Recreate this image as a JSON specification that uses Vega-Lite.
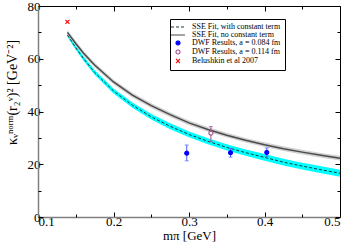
{
 "$schema": "https://vega.github.io/schema/vega-lite/v6.json",
 "width": 302, "height": 211,
 "autosize": "none",
 "padding": {"left": 38, "top": 6, "right": 9, "bottom": 30},
 "background": "white",
 "config": {
  "view": {"stroke": "black", "strokeWidth": 1},
  "font": "Liberation Serif",
  "axis": {"grid": false, "domain": false, "tickColor": "black", "tickWidth": 1, "labelFont": "Liberation Serif", "titleFont": "Liberation Serif", "labelFontSize": 13, "titleFontSize": 13, "titleFontWeight": "normal", "labelColor": "black", "titleColor": "black"}
 },
 "datasets": {
  "curves": [
   {"m": 0.139, "w": 69.0, "wlo": 68.2, "whi": 69.8, "n": 70.0, "nlo": 69.1, "nhi": 70.9},
   {"m": 0.15, "w": 64.2, "wlo": 63.4, "whi": 65.0, "n": 65.8, "nlo": 64.9, "nhi": 66.7},
   {"m": 0.16, "w": 60.2, "wlo": 59.35, "whi": 61.05, "n": 62.2, "nlo": 61.3, "nhi": 63.1},
   {"m": 0.175, "w": 54.8, "wlo": 53.9, "whi": 55.7, "n": 57.6, "nlo": 56.7, "nhi": 58.5},
   {"m": 0.2, "w": 47.8, "wlo": 46.85, "whi": 48.75, "n": 51.2, "nlo": 50.3, "nhi": 52.1},
   {"m": 0.225, "w": 42.4, "wlo": 41.4, "whi": 43.4, "n": 46.2, "nlo": 45.3, "nhi": 47.1},
   {"m": 0.25, "w": 38.0, "wlo": 36.95, "whi": 39.05, "n": 42.2, "nlo": 41.3, "nhi": 43.1},
   {"m": 0.275, "w": 34.4, "wlo": 33.3, "whi": 35.5, "n": 38.8, "nlo": 37.9, "nhi": 39.7},
   {"m": 0.3, "w": 31.3, "wlo": 30.2, "whi": 32.4, "n": 35.7, "nlo": 34.8, "nhi": 36.6},
   {"m": 0.325, "w": 28.7, "wlo": 27.55, "whi": 29.85, "n": 33.2, "nlo": 32.3, "nhi": 34.1},
   {"m": 0.35, "w": 26.4, "wlo": 25.2, "whi": 27.6, "n": 31.0, "nlo": 30.1, "nhi": 31.9},
   {"m": 0.375, "w": 24.4, "wlo": 23.2, "whi": 25.6, "n": 29.1, "nlo": 28.2, "nhi": 30.0},
   {"m": 0.4, "w": 22.6, "wlo": 21.35, "whi": 23.85, "n": 27.4, "nlo": 26.5, "nhi": 28.3},
   {"m": 0.425, "w": 20.8, "wlo": 19.55, "whi": 22.05, "n": 25.9, "nlo": 25.0, "nhi": 26.8},
   {"m": 0.45, "w": 19.3, "wlo": 18.0, "whi": 20.6, "n": 24.6, "nlo": 23.7, "nhi": 25.5},
   {"m": 0.475, "w": 17.9, "wlo": 16.6, "whi": 19.2, "n": 23.4, "nlo": 22.5, "nhi": 24.3},
   {"m": 0.5, "w": 16.6, "wlo": 15.3, "whi": 17.9, "n": 22.3, "nlo": 21.4, "nhi": 23.2}
  ],
  "pts": [
   {"m": 0.297, "v": 24.2, "lo": 21.3, "hi": 27.3, "series": "DWF Results, a = 0.084 fm"},
   {"m": 0.355, "v": 24.4, "lo": 22.7, "hi": 26.0, "series": "DWF Results, a = 0.084 fm"},
   {"m": 0.403, "v": 24.5, "lo": 23.0, "hi": 26.2, "series": "DWF Results, a = 0.084 fm"},
   {"m": 0.329, "v": 31.8, "lo": 28.7, "hi": 34.3, "series": "DWF Results, a = 0.114 fm"},
   {"m": 0.139, "v": 74.0, "lo": null, "hi": null, "series": "Belushkin et al 2007"}
  ]
 },
 "layer": [
  {
   "data": {"name": "curves"},
   "mark": {"type": "area", "color": "#00ffff"},
   "encoding": {
    "x": {"field": "m", "type": "quantitative", "scale": {"domain": [0.1, 0.5], "nice": false, "zero": false},
      "axis": {"orient": "bottom", "values": [0.1, 0.2, 0.3, 0.4, 0.5], "format": ".1f", "tickSize": -5, "labelPadding": 3, "domain": true, "domainColor": "#808080", "domainWidth": 1.5, "title": "mπ [GeV]", "titlePadding": 1}},
    "y": {"field": "wlo", "type": "quantitative", "scale": {"domain": [0, 80], "nice": false, "zero": false},
      "axis": {"orient": "left", "values": [0, 20, 40, 60, 80], "tickSize": -5, "labelPadding": 3, "domain": true, "domainColor": "#808080", "domainWidth": 1.5, "title": "κᵥⁿᵒʳᵐ(r₂ᵛ)² [GeV⁻²]", "titleFontSize": 14, "titleX": -26, "titleY": 86, "titleAngle": 270, "titleAlign": "center", "titleBaseline": "middle"}},
    "y2": {"field": "whi"}
   }
  },
  {
   "data": {"name": "curves"},
   "mark": {"type": "area", "color": "#d2d2d2"},
   "encoding": {
    "x": {"field": "m", "type": "quantitative", "scale": {"domain": [0.1, 0.5], "nice": false, "zero": false},
      "axis": {"orient": "top", "values": [0.1, 0.2, 0.3, 0.4, 0.5], "tickSize": -5, "labels": false, "title": null}},
    "y": {"field": "nlo", "type": "quantitative", "scale": {"domain": [0, 80], "nice": false, "zero": false},
      "axis": {"orient": "right", "values": [0, 20, 40, 60, 80], "tickSize": -5, "labels": false, "title": null}},
    "y2": {"field": "nhi"}
   }
  },
  {
   "data": {"name": "curves"},
   "mark": {"type": "line", "color": "#1e3a3a", "strokeWidth": 1, "strokeDash": [3, 2]},
   "encoding": {
    "x": {"field": "m", "type": "quantitative", "scale": {"domain": [0.1, 0.5], "nice": false, "zero": false},
      "axis": {"orient": "bottom", "values": [0.15, 0.25, 0.35, 0.45], "tickSize": -3, "labels": false, "title": null}},
    "y": {"field": "w", "type": "quantitative", "scale": {"domain": [0, 80], "nice": false, "zero": false},
      "axis": {"orient": "left", "values": [10, 30, 50, 70], "tickSize": -3, "labels": false, "title": null}}
   }
  },
  {
   "data": {"name": "curves"},
   "mark": {"type": "line", "color": "#4a4a4a", "strokeWidth": 1.5},
   "encoding": {
    "x": {"field": "m", "type": "quantitative", "scale": {"domain": [0.1, 0.5], "nice": false, "zero": false},
      "axis": {"orient": "top", "values": [0.15, 0.25, 0.35, 0.45], "tickSize": -3, "labels": false, "title": null}},
    "y": {"field": "n", "type": "quantitative", "scale": {"domain": [0, 80], "nice": false, "zero": false},
      "axis": {"orient": "right", "values": [10, 30, 50, 70], "tickSize": -3, "labels": false, "title": null}}
   }
  },
  {
   "data": {"name": "pts"},
   "transform": [{"filter": "datum.lo != null"}],
   "mark": {"type": "errorbar", "ticks": {"size": 4}, "thickness": 1},
   "encoding": {
    "x": {"field": "m", "type": "quantitative", "axis": null},
    "y": {"field": "lo", "type": "quantitative", "axis": null},
    "y2": {"field": "hi"},
    "color": {"field": "series", "type": "nominal", "legend": null,
      "scale": {"domain": ["DWF Results, a = 0.084 fm", "DWF Results, a = 0.114 fm"], "range": ["#5060ff", "#a0508c"]}}
   }
  },
  {
   "data": {"name": "pts"},
   "mark": {"type": "point", "size": 16, "strokeWidth": 1.1, "opacity": 1},
   "encoding": {
    "x": {"field": "m", "type": "quantitative", "axis": null},
    "y": {"field": "v", "type": "quantitative", "axis": null},
    "shape": {"field": "series", "type": "nominal",
      "scale": {"domain": ["SSE Fit, with constant term", "SSE Fit, no constant term", "DWF Results, a = 0.084 fm", "DWF Results, a = 0.114 fm", "Belushkin et al 2007"],
                "range": ["M-3.5,0H3.5", "M-3.5,0H3.5", "circle", "circle", "M-1,-1L1,1M-1,1L1,-1"]},
      "legend": {"title": null, "orient": "none", "legendX": 132, "legendY": 13, "padding": 4, "strokeColor": "black", "fillColor": "white", "labelFont": "Liberation Serif", "labelFontSize": 8, "labelColor": "black", "symbolSize": 16, "symbolStrokeWidth": 1.1, "rowPadding": -1.5, "labelOffset": 10, "cornerRadius": 0}},
    "stroke": {"field": "series", "type": "nominal",
      "scale": {"domain": ["SSE Fit, with constant term", "SSE Fit, no constant term", "DWF Results, a = 0.084 fm", "DWF Results, a = 0.114 fm", "Belushkin et al 2007"],
                "range": ["#1e3a3a", "#4a4a4a", "#0000ff", "#a0508c", "#ff0000"]}},
    "fill": {"field": "series", "type": "nominal",
      "scale": {"domain": ["SSE Fit, with constant term", "SSE Fit, no constant term", "DWF Results, a = 0.084 fm", "DWF Results, a = 0.114 fm", "Belushkin et al 2007"],
                "range": ["transparent", "transparent", "#0000ff", "white", "transparent"]}},
    "strokeDash": {"field": "series", "type": "nominal",
      "scale": {"domain": ["SSE Fit, with constant term", "SSE Fit, no constant term", "DWF Results, a = 0.084 fm", "DWF Results, a = 0.114 fm", "Belushkin et al 2007"],
                "range": [[3, 2], [1, 0], [1, 0], [1, 0], [1, 0]]}}
   }
  }
 ],
 "resolve": {"axis": {"x": "independent", "y": "independent"}}
}
